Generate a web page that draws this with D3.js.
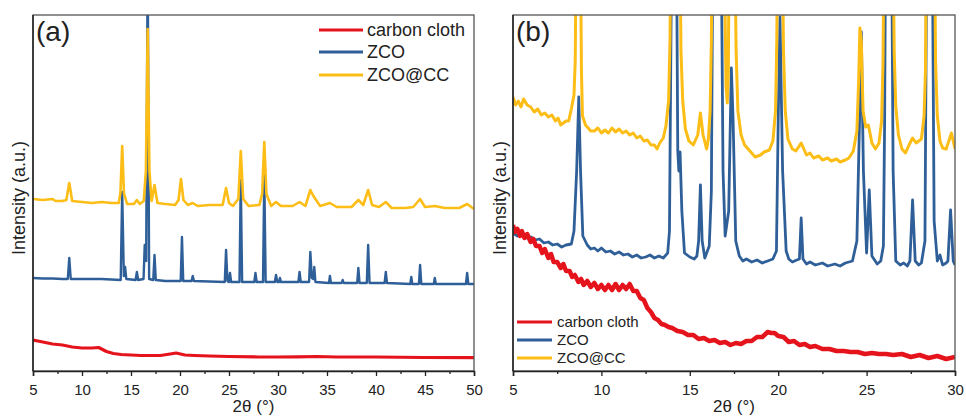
<!DOCTYPE html>
<html><head><meta charset="utf-8">
<script src="https://cdn.jsdelivr.net/npm/d3@7"></script>
<style>
html,body{margin:0;padding:0;background:#fff;}
svg{display:block;}
text{font-family:"Liberation Sans",Arial,sans-serif;fill:#222;}
</style></head>
<body>
<svg id="chart" width="966" height="417"></svg>
<script>
// ---------- DATA (2θ in degrees, intensity in arbitrary units) ----------
const seriesNames = ["carbon cloth", "ZCO", "ZCO@CC"];
const panelLabels = ["(a)", "(b)"];
const xTicksA = [5,10,15,20,25,30,35,40,45,50];
const xTicksB = [5,10,15,20,25,30];

// Panel (a): 5–50°
const ccA = [[5,31],[5.5,30],[6,29],[6.5,28],[7,27],[8,26],[9,24],[10,23],[11,23],[11.7,23.5],[12.5,19.5],[13.2,17.5],[14,16.5],[15,16],[16,15.5],[17,15.5],[18,15.5],[19,17],[19.6,18],[20.5,16],[21.5,15.5],[23,15],[25,14.5],[28,14],[30,14],[32,14.2],[34,14.5],[36,14],[40,14],[45,13.5],[50,13.3]];
const zcoA = [[5,93],[6,92.5],[7,92.5],[8,92],[8.55,92],[8.7,113],[8.85,92],[10,92],[12,92],[13.95,91],[14.1,179],[14.27,95],[14.4,104],[14.52,92],[15.47,91],[15.6,99],[15.73,91],[16.28,92],[16.4,126],[16.55,110],[16.7,420],[16.85,92],[17.27,91],[17.4,116],[17.53,91],[18.5,90],[20.07,90],[20.2,134],[20.33,90],[21.18,90],[21.3,95],[21.42,90],[24.57,89],[24.7,121],[24.84,90],[24.98,89],[25.1,98],[25.22,89],[26.07,89],[26.2,191],[26.34,89],[27.58,89],[27.7,98],[27.82,89],[28.47,89],[28.6,196],[28.74,89],[29.68,89],[29.8,96],[29.93,89],[30.1,89],[30.2,93],[30.3,89],[32.08,89],[32.2,99],[32.32,89],[33.17,89],[33.3,119],[33.45,93],[33.6,92],[33.7,104],[33.82,89],[35.2,88],[35.3,95],[35.4,88],[36.5,88],[36.6,91],[36.7,88],[38.08,88],[38.2,103],[38.32,88],[39.06,88],[39.2,126],[39.34,88],[40.88,88],[41.0,99],[41.12,88],[43.5,87],[43.6,94],[43.7,87],[44.38,87],[44.5,106],[44.62,87],[45.9,87],[46.0,93],[46.1,87],[49.18,87],[49.3,98],[49.42,87],[50,87]];
const zcoccA = [[5,172],[6,171],[7,172],[7.3,170],[8,170],[8.4,171],[8.7,188],[9.0,170],[10,169],[11,168],[12,169],[13,168],[13.75,168],[13.92,178],[14.1,225],[14.28,178],[14.6,167],[15.3,167],[15.6,171],[15.9,167],[16.3,170],[16.52,200],[16.7,342],[16.88,200],[17.1,170],[17.4,186],[17.7,168],[18.5,167],[19.5,166],[19.85,171],[20.1,192],[20.35,171],[20.8,166],[21.3,168],[21.8,165],[23,166],[24.35,166],[24.7,183],[25.0,168],[25.4,165],[25.95,172],[26.2,220],[26.45,172],[27,165],[28.1,166],[28.38,177],[28.6,229],[28.82,177],[29.3,165],[29.8,169],[30.3,165],[31.5,165],[32.2,169],[32.8,165],[33.3,181],[33.55,176],[33.75,173],[34.3,165],[35.3,168],[36,164],[37.5,164],[38.2,171],[38.7,166],[39.2,181],[39.6,166],[40.3,164],[41,169],[41.6,163],[43,163],[43.8,164],[44.5,172],[45,164],[46,165],[47,163],[48.5,163],[49.3,167],[50,162]];

// Panel (b): 5–30° (magnified)
const ccB = [[5.0,146],[5.1,139],[5.25,142],[5.4,135],[5.5,140],[5.65,133],[5.8,137],[6.0,129],[6.15,132],[6.3,125],[6.5,125],[6.65,118],[6.8,122],[7.0,113],[7.15,117],[7.3,109],[7.5,109],[7.7,103],[7.85,107],[8.0,100],[8.2,100],[8.35,94],[8.5,96],[8.7,89],[8.85,92],[9.0,86],[9.2,90],[9.4,84],[9.6,88],[9.8,82],[10.0,86],[10.2,81],[10.4,86],[10.6,81],[10.8,87],[11.0,81],[11.2,86],[11.4,82],[11.6,87],[11.8,80],[12.0,80],[12.2,73],[12.4,71],[12.6,63],[12.8,59],[13.0,53],[13.2,51],[13.4,47],[13.6,46],[13.8,44],[14.0,43],[14.3,40],[14.6,39],[14.9,36],[15.2,36],[15.5,32],[15.8,33],[16.1,30],[16.4,31],[16.7,28],[17.0,29],[17.3,26],[17.6,28],[17.9,27],[18.2,30],[18.5,30],[18.8,34],[19.1,34],[19.4,39],[19.6,38],[19.8,38],[20.0,35],[20.3,34],[20.6,29],[20.9,30],[21.2,26],[21.5,27],[21.8,24],[22.1,25],[22.5,22],[22.9,22],[23.3,20],[23.7,20],[24.1,19],[24.5,19],[24.9,17],[25.3,18],[25.7,17],[26.1,17],[26.5,16],[27.0,17],[27.5,14],[28.0,16],[28.5,13],[29.0,15],[29.5,12],[30.0,14]];
const zcoB = [[5.0,138],[5.25,135],[5.5,137],[5.75,133],[6.0,134],[6.25,131],[6.5,132],[6.75,128],[7.0,129],[7.25,126],[7.5,127],[7.75,124],[8.0,126],[8.3,127],[8.45,140],[8.6,200],[8.72,274],[8.82,200],[8.95,135],[9.2,126],[9.4,122],[9.6,123],[9.8,120],[10.0,123],[10.25,119],[10.5,120],[10.75,117],[11.0,119],[11.25,116],[11.5,117],[11.75,114],[12.0,116],[12.25,113],[12.5,114],[12.75,116],[13.0,113],[13.25,115],[13.5,113],[13.75,118],[13.85,140],[13.92,300],[13.97,420],[14.25,420],[14.32,220],[14.38,200],[14.45,219],[14.55,160],[14.7,118],[15.0,114],[15.25,112],[15.4,115],[15.5,130],[15.6,186],[15.7,130],[15.85,113],[16.1,125],[16.22,180],[16.3,420],[16.78,420],[16.88,200],[17.0,135],[17.2,160],[17.35,303],[17.45,250],[17.6,130],[17.8,115],[18.0,110],[18.2,112],[18.5,109],[18.8,111],[19.1,108],[19.4,110],[19.7,112],[19.9,120],[20.0,250],[20.1,354],[20.25,200],[20.45,120],[20.6,112],[20.8,109],[21.05,111],[21.2,112],[21.3,153],[21.4,112],[21.6,107],[21.8,109],[22.1,106],[22.5,108],[22.8,105],[23.2,107],[23.5,105],[23.8,108],[24.2,110],[24.45,130],[24.6,250],[24.7,339],[24.82,200],[25.0,118],[25.15,181],[25.3,115],[25.6,107],[25.8,110],[25.95,125],[26.02,250],[26.07,420],[26.42,420],[26.5,200],[26.65,110],[26.9,106],[27.1,108],[27.3,105],[27.45,110],[27.6,171],[27.75,110],[27.95,106],[28.1,108],[28.3,130],[28.4,420],[28.72,420],[28.82,150],[29.0,110],[29.15,116],[29.3,106],[29.5,108],[29.6,110],[29.75,161],[29.9,110],[30.0,106]];
const zcoccB = [[5.0,274],[5.15,266],[5.3,270],[5.45,264],[5.6,272],[5.8,266],[6.0,264],[6.2,259],[6.4,262],[6.6,256],[6.8,258],[7.0,254],[7.2,256],[7.4,250],[7.55,253],[7.7,246],[7.85,248],[8.0,250],[8.15,250],[8.3,262],[8.45,276],[8.52,310],[8.57,420],[8.82,420],[8.87,300],[8.93,255],[9.1,246],[9.25,243],[9.4,240],[9.6,240],[9.8,243],[10.0,238],[10.2,241],[10.4,238],[10.6,243],[10.8,239],[11.0,242],[11.2,238],[11.4,240],[11.6,236],[11.8,238],[12.0,233],[12.2,235],[12.4,230],[12.6,231],[12.8,226],[13.0,226],[13.15,222],[13.3,228],[13.5,233],[13.65,245],[13.8,270],[13.88,330],[13.92,420],[14.45,420],[14.5,320],[14.6,270],[14.75,242],[14.95,230],[15.2,226],[15.45,236],[15.6,258],[15.75,236],[15.95,222],[16.05,232],[16.15,260],[16.22,330],[16.26,420],[16.95,420],[17.05,285],[17.12,268],[17.18,300],[17.22,420],[17.55,420],[17.62,320],[17.72,260],[17.9,236],[18.1,226],[18.3,222],[18.5,218],[18.7,214],[19.0,216],[19.2,219],[19.5,221],[19.7,230],[19.85,260],[19.92,330],[19.96,420],[20.24,420],[20.3,320],[20.4,260],[20.55,232],[20.8,222],[21.0,220],[21.3,228],[21.6,216],[21.8,218],[22.0,213],[22.3,215],[22.5,211],[22.8,213],[23.0,210],[23.3,212],[23.5,209],[23.8,211],[24.0,213],[24.25,220],[24.45,240],[24.55,290],[24.62,343],[24.7,330],[24.8,260],[24.95,244],[25.1,246],[25.3,228],[25.5,222],[25.7,228],[25.85,250],[25.93,310],[25.98,420],[26.5,420],[26.56,320],[26.65,265],[26.8,236],[27.0,222],[27.2,218],[27.4,226],[27.6,233],[27.8,228],[28.1,232],[28.25,255],[28.33,300],[28.38,420],[28.85,420],[28.9,310],[29.0,255],[29.15,230],[29.3,223],[29.5,222],[29.65,230],[29.8,238],[29.9,230],[30.0,222]];

// ---------- STYLE ----------
const colors = {cc: "#e5141c", zco: "#2f5f98", zcocc: "#fbbd16"};
const svg = d3.select("#chart");

const panels = [
  {id:"a", left:33, right:474, top:15, bottom:371, xDomain:[5,50], ticks:xTicksA, minorStep:2.5,
   series:[{d:ccA,c:colors.cc,w:3.2},{d:zcoA,c:colors.zco,w:2.4},{d:zcoccA,c:colors.zcocc,w:2.6}],
   label:panelLabels[0], ylabelX:25,
   legend:{x1:319,x2:363,tx:367,ys:[30,52,75],fs:18}},
  {id:"b", left:513, right:955, top:15, bottom:371, xDomain:[5,30], ticks:xTicksB, minorStep:2.5,
   series:[{d:zcoB,c:colors.zco,w:2.8},{d:zcoccB,c:colors.zcocc,w:3.0},{d:ccB,c:colors.cc,w:4.5}],
   label:panelLabels[1], ylabelX:506,
   legend:{x1:517,x2:552,tx:557,ys:[322,340,358],fs:15}}
];
const legendColors = [colors.cc, colors.zco, colors.zcocc];

panels.forEach(p => {
  const x = d3.scaleLinear().domain(p.xDomain).range([p.left, p.right]);
  const y = d3.scaleLinear().domain([0, p.bottom - p.top]).range([p.bottom, p.top]);

  svg.append("clipPath").attr("id","clip"+p.id)
    .append("rect").attr("x",p.left).attr("y",p.top)
    .attr("width",p.right-p.left).attr("height",p.bottom-p.top);

  const g = svg.append("g").attr("clip-path","url(#clip"+p.id+")");
  const line = d3.line().x(d=>x(d[0])).y(d=>y(d[1])).curve(d3.curveLinear);
  p.series.forEach(s => {
    g.append("path").datum(s.d).attr("d",line)
      .attr("fill","none").attr("stroke",s.c).attr("stroke-width",s.w)
      .attr("stroke-linejoin","round");
  });

  svg.append("rect").attr("x",p.left).attr("y",p.top)
    .attr("width",p.right-p.left).attr("height",p.bottom-p.top)
    .attr("fill","none").attr("stroke","#555").attr("stroke-width",1.3);

  const minor = d3.range(p.xDomain[0], p.xDomain[1]+0.001, p.minorStep).filter(v => p.ticks.indexOf(v) < 0);
  svg.append("g").attr("transform",`translate(0,${p.bottom})`)
    .call(d3.axisBottom(x).tickValues(minor).tickSize(3).tickFormat(""))
    .call(a=>a.select(".domain").remove())
    .selectAll("line").attr("stroke","#222").attr("stroke-width",1.3);

  const ax = svg.append("g").attr("transform",`translate(0,${p.bottom})`)
    .call(d3.axisBottom(x).tickValues(p.ticks).tickSize(5).tickPadding(8).tickFormat(d3.format("d")));
  ax.select(".domain").attr("stroke","#222").attr("stroke-width",1.5);
  ax.selectAll(".tick line").attr("stroke","#222").attr("stroke-width",1.3);
  ax.selectAll("text").attr("font-size",15).attr("font-family","'Liberation Sans',Arial,sans-serif").attr("fill","#333");

  svg.append("line").attr("x1",p.left).attr("x2",p.left).attr("y1",p.top).attr("y2",p.bottom)
    .attr("stroke","#222").attr("stroke-width",1.5);

  svg.append("text").attr("x",(p.left+p.right)/2).attr("y",412)
    .attr("text-anchor","middle").attr("font-size",17).attr("fill","#333").text("2θ (°)");
  svg.append("text").attr("transform",`translate(${p.ylabelX},198) rotate(-90)`)
    .attr("text-anchor","middle").attr("font-size",18).attr("fill","#333").text("Intensity (a.u.)");

  svg.append("text").attr("x",p.left+3).attr("y",41)
    .attr("font-family","Lato, 'Open Sans', sans-serif").attr("font-size",28).attr("fill","#111").text(p.label);

  seriesNames.forEach((n,i) => {
    const ly = p.legend.ys[i];
    svg.append("line").attr("x1",p.legend.x1).attr("x2",p.legend.x2).attr("y1",ly).attr("y2",ly)
      .attr("stroke",legendColors[i]).attr("stroke-width",3);
    svg.append("text").attr("x",p.legend.tx).attr("y",ly).attr("dy","0.36em")
      .attr("font-size",p.legend.fs).attr("fill","#333").text(n);
  });
});
</script>
</body></html>
